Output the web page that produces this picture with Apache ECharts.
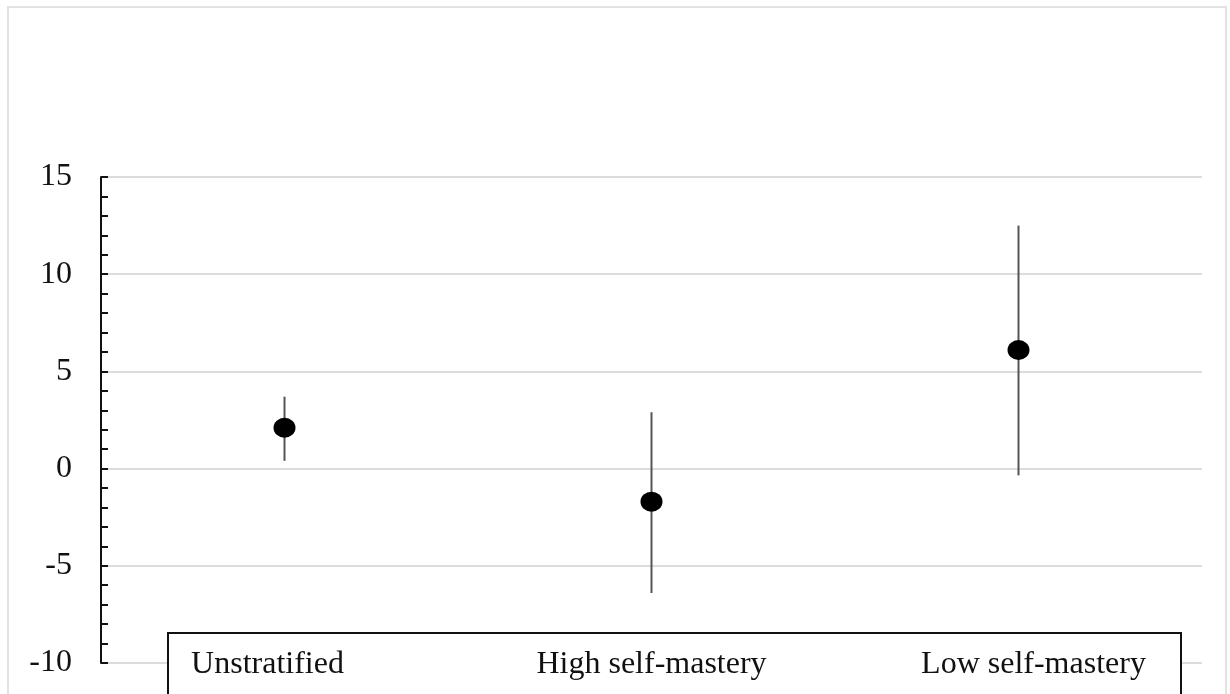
<!DOCTYPE html>
<html>
<head>
<meta charset="utf-8">
<script src="https://cdn.jsdelivr.net/npm/echarts@6/dist/echarts.min.js"></script>
<style>
html,body{margin:0;padding:0;background:#fff;}
#chart{width:1230px;height:694px;}
</style>
</head>
<body>
<div id="chart"></div>
<script>
const categories = ['Unstratified', 'High self-mastery', 'Low self-mastery'];
const estimates = [2.1, -1.7, 6.1];
const lowerCI = [0.4, -6.4, -0.35];
const upperCI = [3.7, 2.9, 12.5];
const yTicks = [-10, -5, 0, 5, 10, 15];

const chart = echarts.init(document.getElementById('chart'));
const serif = '"Liberation Serif", "Times New Roman", serif';
const FS = 32;
const labelPad = {
  'Unstratified': [0, 34, 0, 0],
  'High self-mastery': [0, 0, 0, 0],
  'Low self-mastery': [0, 0, 0, 30]
};

const option = {
  backgroundColor: '#fff',
  animation: false,
  grid: { left: 101, right: 28, top: 177, bottom: 31, containLabel: false },
  xAxis: {
    type: 'category',
    data: categories,
    z: 5,
    axisLine: { show: false },
    axisTick: { show: false },
    axisLabel: {
      margin: 2,
      verticalAlign: 'middle',
      interval: 0,
      fontFamily: serif,
      fontSize: FS,
      color: '#111',
      formatter: function (v, i) { return '{c' + i + '|' + v + '}'; },
      rich: {
        c0: { fontFamily: serif, fontSize: FS, color: '#111', padding: labelPad['Unstratified'] },
        c1: { fontFamily: serif, fontSize: FS, color: '#111', padding: labelPad['High self-mastery'] },
        c2: { fontFamily: serif, fontSize: FS, color: '#111', padding: labelPad['Low self-mastery'] }
      }
    },
    splitLine: { show: false }
  },
  yAxis: {
    type: 'value',
    min: yTicks[0],
    max: yTicks[yTicks.length - 1],
    interval: 5,
    z: 0,
    axisLine: { show: true, lineStyle: { color: '#111', width: 2 } },
    axisTick: { show: true, inside: true, length: 7, lineStyle: { color: '#111', width: 2 } },
    minorTick: { show: true, splitNumber: 5, length: 7, lineStyle: { color: '#111', width: 2 } },
    axisLabel: {
      margin: 29,
      fontFamily: serif,
      fontSize: FS,
      color: '#111'
    },
    splitLine: { show: true, lineStyle: { color: '#dcdcdc', width: 2 } }
  },
  graphic: [
    {
      type: 'rect',
      z: 1,
      shape: { x: 8, y: 7, width: 1218, height: 720 },
      style: { fill: 'none', stroke: '#e2e2e2', lineWidth: 2 },
      silent: true
    },
    {
      type: 'rect',
      z: 1,
      shape: { x: 168, y: 633, width: 1013, height: 80 },
      style: { fill: '#fff', stroke: '#111', lineWidth: 2 },
      silent: true
    }
  ],
  series: [
    {
      type: 'custom',
      z: 3,
      renderItem: function (params, api) {
        const i = api.value(0);
        const top = api.coord([i, api.value(2)]);
        const bot = api.coord([i, api.value(1)]);
        return {
          type: 'line',
          shape: { x1: top[0], y1: top[1], x2: bot[0], y2: bot[1] },
          style: { stroke: '#555', lineWidth: 2 }
        };
      },
      data: categories.map((c, i) => [i, lowerCI[i], upperCI[i]])
    },
    {
      type: 'scatter',
      z: 4,
      symbol: 'circle',
      symbolSize: [22, 20],
      itemStyle: { color: '#000', opacity: 1 },
      data: estimates
    }
  ]
};
chart.setOption(option);
</script>
</body>
</html>
